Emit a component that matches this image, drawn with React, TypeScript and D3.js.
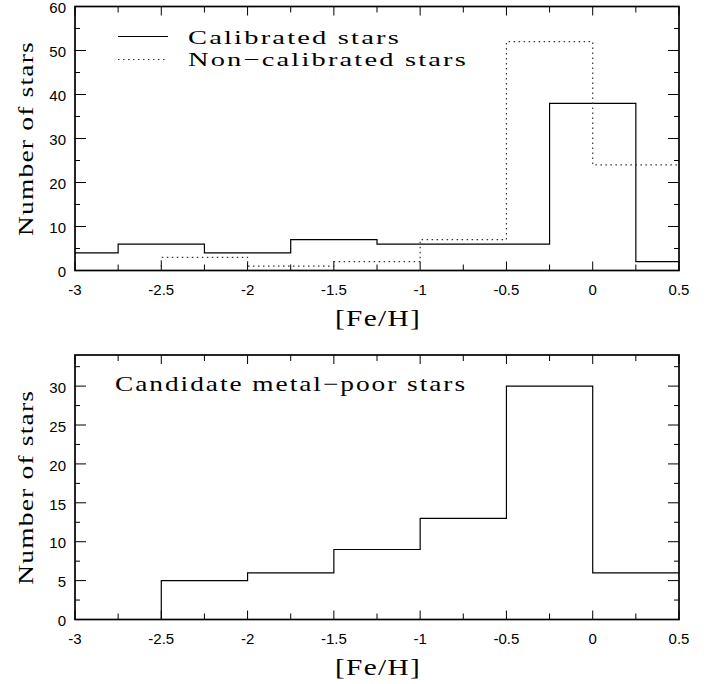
import { useEffect } from "react";
import * as d3 from "d3";

const W = 714;
const H = 684;

// histogram bins (centres + counts)
const binWidth = 0.5;
const calibCenters = [-3, -2.5, -2, -1.5, -1, -0.5, 0, 0.5];
const calibCounts = [4, 6, 4, 7, 6, 6, 38, 2];
const nonCalibCenters = [-2.75, -2.25, -1.75, -1.25, -0.75, -0.25, 0.25];
const nonCalibCounts = [0, 3, 1, 2, 7, 52, 24];
const candCenters = [-2.75, -2.25, -1.75, -1.25, -0.75, -0.25, 0.25];
const candCounts = [0, 5, 6, 9, 13, 30, 6];

const xTicks = [-3, -2.5, -2, -1.5, -1, -0.5, 0, 0.5];
const xTickLabels = ["-3", "-2.5", "-2", "-1.5", "-1", "-0.5", "0", "0.5"];
const topYTicks = [0, 10, 20, 30, 40, 50, 60];
const botYTicks = [0, 5, 10, 15, 20, 25, 30];

const legendLabels = ["Calibrated stars", "Non\u2212calibrated stars"];
const candLabel = "Candidate metal\u2212poor stars";
const xTitle = "[Fe/H]";
const yTitle = "Number of stars";

const left = 75;
const right = 679;
const serif = "'Liberation Serif', 'Times New Roman', serif";
const sans = "'Liberation Sans', Arial, sans-serif";

const x = d3.scaleLinear().domain([-3, 0.5]).range([left, right]);

const stepPath = (centers, counts, y) => {
  const pts = [];
  centers.forEach((c, i) => {
    pts.push([c - binWidth / 2, counts[i]]);
    pts.push([c + binWidth / 2, counts[i]]);
  });
  return d3
    .line()
    .x((d) => x(d[0]))
    .y((d) => y(d[1]))(pts);
};

// serif label stretched to the width it has in the figure
const Label = ({ x, y, len, spacing = 1.5, size = 21, anchor = "start", transform = undefined, children }) => (
  <text
    x={x}
    y={y}
    transform={transform}
    textAnchor={anchor}
    fontFamily={serif}
    fontSize={size}
    letterSpacing={spacing}
    textLength={len}
    lengthAdjust="spacingAndGlyphs"
  >
    {children}
  </text>
);

const Panel = ({ id, top, bottom, yMax, yTicks, yMinorStep, children }) => {
  const y = d3.scaleLinear().domain([0, yMax]).range([bottom, top]);
  const xMinor = d3.range(-3, 0.5001, 0.25);
  const yMinor = d3.range(0, yMax + 0.001, yMinorStep);
  return (
    <g>
      <defs>
        <clipPath id={id}>
          <rect x={left} y={top} width={right - left} height={bottom - top} />
        </clipPath>
      </defs>
      {/* x ticks, bottom + top */}
      {xMinor.map((t, i) => {
        const major = xTicks.some((m) => Math.abs(m - t) < 1e-6);
        const len = major ? 9 : 6;
        return (
          <g key={"xt" + i} stroke="#000" strokeWidth={1}>
            <line x1={x(t)} x2={x(t)} y1={bottom} y2={bottom - len} />
            <line x1={x(t)} x2={x(t)} y1={top} y2={top + len} />
          </g>
        );
      })}
      {/* y ticks, left + right */}
      {yMinor.map((t, i) => {
        const major = yTicks.includes(t);
        const len = major ? 11 : 5;
        return (
          <g key={"yt" + i} stroke="#000" strokeWidth={1}>
            <line x1={left} x2={left + len} y1={y(t)} y2={y(t)} />
            <line x1={right} x2={right - len} y1={y(t)} y2={y(t)} />
          </g>
        );
      })}
      {xTicks.map((t, i) => (
        <text
          key={"xl" + i}
          x={x(t)}
          y={bottom + 24}
          textAnchor="middle"
          fontFamily={sans}
          fontSize={15}
        >
          {xTickLabels[i]}
        </text>
      ))}
      {yTicks.map((t) => (
        <text
          key={"yl" + t}
          x={66}
          y={y(t)}
          dy="0.45em"
          textAnchor="end"
          fontFamily={sans}
          fontSize={15}
        >
          {t}
        </text>
      ))}
      <g clipPath={`url(#${id})`}>{children(y)}</g>
      <rect
        x={left}
        y={top}
        width={right - left}
        height={bottom - top}
        fill="none"
        stroke="#000"
        strokeWidth={1.7}
      />
      <Label x={(left + right) / 2 + 1} y={bottom + 55} len={86} size={23} spacing={1} anchor="middle">
        {xTitle}
      </Label>
      <Label
        x={0}
        y={0}
        transform={`translate(33, ${(top + bottom) / 2}) rotate(-90)`}
        len={195}
        size={22}
        spacing={1}
        anchor="middle"
      >
        {yTitle}
      </Label>
    </g>
  );
};

export default function App() {
  useEffect(() => {
    document.body.style.margin = "0";
  }, []);

  return (
    <svg width={W} height={H} style={{ display: "block", background: "#fff" }}>
      <rect width={W} height={H} fill="#fff" />
      <Panel id="clipTop" top={6.5} bottom={270.5} yMax={60} yTicks={topYTicks} yMinorStep={5}>
        {(y) => (
          <g fill="none" stroke="#000" strokeWidth={1.2}>
            <path d={stepPath(calibCenters, calibCounts, y)} />
            <path
              d={stepPath(nonCalibCenters, nonCalibCounts, y)}
              strokeDasharray="1.5,3.5"
              stroke="#333"
            />
          </g>
        )}
      </Panel>
      {/* legend */}
      <line x1={118} x2={168} y1={36.5} y2={36.5} stroke="#000" strokeWidth={1.2} />
      <line
        x1={118}
        x2={168}
        y1={59.5}
        y2={59.5}
        stroke="#333"
        strokeWidth={1.2}
        strokeDasharray="1.5,3.5"
      />
      <Label x={188} y={44} len={213} size={19.5}>
        {legendLabels[0]}
      </Label>
      <Label x={188} y={66} len={280} size={19.5}>
        {legendLabels[1]}
      </Label>

      <Panel id="clipBot" top={355} bottom={619.5} yMax={34} yTicks={botYTicks} yMinorStep={2.5}>
        {(y) => (
          <path d={stepPath(candCenters, candCounts, y)} fill="none" stroke="#000" strokeWidth={1.2} />
        )}
      </Panel>
      <Label x={115} y={391} len={352}>
        {candLabel}
      </Label>
    </svg>
  );
}
